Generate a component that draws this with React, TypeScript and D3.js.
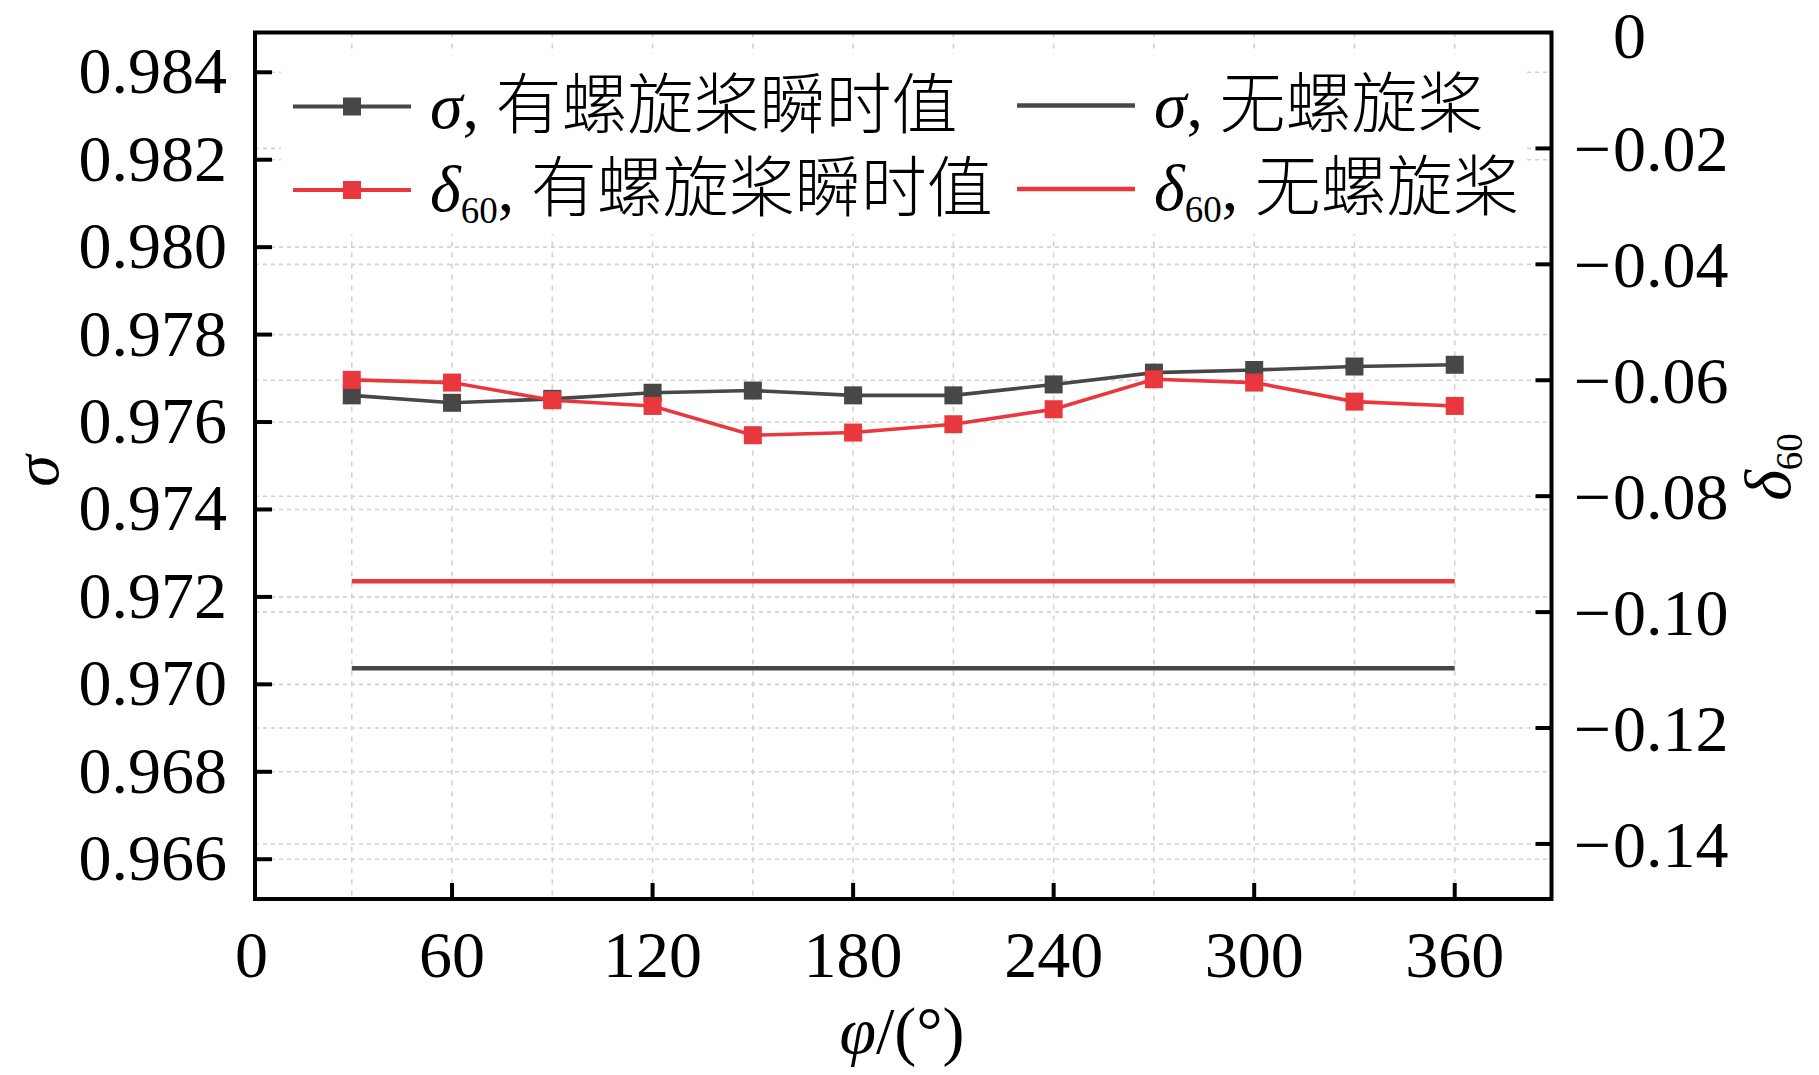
import { useEffect, useRef } from 'react';
import * as d3 from 'd3';

// propeller blade angle (deg)
const PHI = [30, 60, 90, 120, 150, 180, 210, 240, 270, 300, 330, 360];
// σ, with propeller (instantaneous)
const SIGMA_PROP = [0.97661, 0.97644, 0.97653, 0.97667, 0.97672, 0.97661, 0.97661, 0.97686, 0.97713, 0.97719, 0.97727, 0.97731];
// δ60, with propeller (instantaneous)
const DELTA_PROP = [-0.05994, -0.0604, -0.06345, -0.06443, -0.06948, -0.06902, -0.06759, -0.065, -0.05983, -0.0604, -0.06368, -0.06443];
// without propeller (constant reference)
const BASE_PHI = [30, 360];
const SIGMA_BASE = [0.97037, 0.97037];
const DELTA_BASE = [-0.09467, -0.09467];

const X_TICKS = [0, 60, 120, 180, 240, 300, 360];
const X_GRID = [30, 60, 90, 120, 150, 180, 210, 240, 270, 300, 330, 360];
const LEFT_TICKS = [0.966, 0.968, 0.97, 0.972, 0.974, 0.976, 0.978, 0.98, 0.982, 0.984];
const RIGHT_TICKS = [0, -0.02, -0.04, -0.06, -0.08, -0.1, -0.12, -0.14];

const GREY = '#474747';
const RED = '#e8383d';
const FONT = "'Liberation Serif', 'Times New Roman', 'Noto Sans CJK SC', serif";

export default function App() {
  const svgRef = useRef<SVGSVGElement>(null);

  useEffect(() => {
    if (!svgRef.current) return;
    d3.select(svgRef.current).selectAll('*').remove();

    const width = 1819;
    const height = 1075;
    const left = 255;
    const right = 1551.5;
    const top = 32.5;
    const bottom = 899;

    const svg = d3
      .select(svgRef.current)
      .attr('width', width)
      .attr('height', height)
      .style('font-family', FONT);

    const x = d3.scaleLinear().domain([0, 390]).range([251.5, 1555]);
    const yL = d3.scaleLinear().domain([0.96509, 0.98491]).range([bottom, top]);
    const yR = d3.scaleLinear().domain([-0.1495, 0]).range([bottom, top]);

    svg.append('rect').attr('width', width).attr('height', height).attr('fill', '#fff');

    // grid
    const grid = svg.append('g').attr('stroke', '#d2d2d2').attr('stroke-width', 1.6);
    grid
      .selectAll('line.v')
      .data(X_GRID)
      .enter()
      .append('line')
      .attr('x1', (d) => x(d))
      .attr('x2', (d) => x(d))
      .attr('y1', top)
      .attr('y2', bottom)
      .attr('stroke-dasharray', '5 6');
    grid
      .selectAll('line.hl')
      .data(LEFT_TICKS)
      .enter()
      .append('line')
      .attr('x1', left)
      .attr('x2', right)
      .attr('y1', (d) => yL(d))
      .attr('y2', (d) => yL(d))
      .attr('stroke-dasharray', '4 4');
    grid
      .selectAll('line.hr')
      .data(RIGHT_TICKS.filter((d) => d !== 0))
      .enter()
      .append('line')
      .attr('x1', left)
      .attr('x2', right)
      .attr('y1', (d) => yR(d))
      .attr('y2', (d) => yR(d))
      .attr('stroke-dasharray', '4 4');

    // legend background hides the grid behind it
    svg.append('rect').attr('x', 281).attr('y', 55).attr('width', 1246).attr('height', 179).attr('fill', '#fff');

    // frame
    svg
      .append('rect')
      .attr('x', left)
      .attr('y', top)
      .attr('width', right - left)
      .attr('height', bottom - top)
      .attr('fill', 'none')
      .attr('stroke', '#000')
      .attr('stroke-width', 4);

    // ticks (inward)
    const ticks = svg.append('g').attr('stroke', '#000').attr('stroke-width', 4);
    ticks
      .selectAll('line.xt')
      .data(X_TICKS.filter((d) => d > 0))
      .enter()
      .append('line')
      .attr('x1', (d) => x(d))
      .attr('x2', (d) => x(d))
      .attr('y1', bottom)
      .attr('y2', bottom - 16);
    ticks
      .selectAll('line.lt')
      .data(LEFT_TICKS)
      .enter()
      .append('line')
      .attr('x1', left)
      .attr('x2', left + 17)
      .attr('y1', (d) => yL(d))
      .attr('y2', (d) => yL(d));
    ticks
      .selectAll('line.rt')
      .data(RIGHT_TICKS.filter((d) => d !== 0))
      .enter()
      .append('line')
      .attr('x1', right)
      .attr('x2', right - 16)
      .attr('y1', (d) => yR(d))
      .attr('y2', (d) => yR(d));

    // tick labels
    svg
      .selectAll('text.xl')
      .data(X_TICKS)
      .enter()
      .append('text')
      .attr('x', (d) => x(d))
      .attr('y', 977)
      .attr('text-anchor', 'middle')
      .attr('font-size', 66)
      .text((d) => d);
    svg
      .selectAll('text.ll')
      .data(LEFT_TICKS)
      .enter()
      .append('text')
      .attr('x', 227)
      .attr('y', (d) => yL(d) + 21)
      .attr('text-anchor', 'end')
      .attr('font-size', 66)
      .text((d) => d.toFixed(3));
    const rl = svg
      .selectAll('g.rl')
      .data(RIGHT_TICKS)
      .enter()
      .append('g')
      .attr('transform', (d) => `translate(1613,${d === 0 ? 58 : yR(d) + 23})`)
      .attr('font-size', 66);
    rl.append('text').attr('text-anchor', 'start').text((d) => (d === 0 ? '0' : Math.abs(d).toFixed(2)));
    rl
      .filter((d) => d !== 0)
      .append('text')
      .attr('text-anchor', 'end')
      .attr('x', -2)
      .text('\u2212');

    // constant lines, without propeller
    const lineL = d3
      .line<number>()
      .x((_, i) => x(BASE_PHI[i]))
      .y((d) => yL(d));
    const lineR = d3
      .line<number>()
      .x((_, i) => x(BASE_PHI[i]))
      .y((d) => yR(d));
    svg.append('path').attr('d', lineR(DELTA_BASE)).attr('fill', 'none').attr('stroke', RED).attr('stroke-width', 4.5);
    svg.append('path').attr('d', lineL(SIGMA_BASE)).attr('fill', 'none').attr('stroke', GREY).attr('stroke-width', 4.5);

    // instantaneous series
    const sigLine = d3
      .line<number>()
      .x((_, i) => x(PHI[i]))
      .y((d) => yL(d));
    const delLine = d3
      .line<number>()
      .x((_, i) => x(PHI[i]))
      .y((d) => yR(d));
    const ms = 18;

    svg.append('path').attr('d', sigLine(SIGMA_PROP)).attr('fill', 'none').attr('stroke', GREY).attr('stroke-width', 3.6);
    svg
      .selectAll('rect.sm')
      .data(SIGMA_PROP)
      .enter()
      .append('rect')
      .attr('x', (_, i) => x(PHI[i]) - ms / 2)
      .attr('y', (d) => yL(d) - ms / 2)
      .attr('width', ms)
      .attr('height', ms)
      .attr('fill', GREY);

    svg.append('path').attr('d', delLine(DELTA_PROP)).attr('fill', 'none').attr('stroke', RED).attr('stroke-width', 3.6);
    svg
      .selectAll('rect.dm')
      .data(DELTA_PROP)
      .enter()
      .append('rect')
      .attr('x', (_, i) => x(PHI[i]) - ms / 2)
      .attr('y', (d) => yR(d) - ms / 2)
      .attr('width', ms)
      .attr('height', ms)
      .attr('fill', RED);

    // legend
    const legendItems = [
      { x0: 293, y0: 106.5, color: GREY, marker: true, sym: 'σ', sub: '', label: ', 有螺旋桨瞬时值' },
      { x0: 293, y0: 190, color: RED, marker: true, sym: 'δ', sub: '60', label: ', 有螺旋桨瞬时值' },
      { x0: 1017, y0: 105.5, color: GREY, marker: false, sym: 'σ', sub: '', label: ', 无螺旋桨' },
      { x0: 1017, y0: 189, color: RED, marker: false, sym: 'δ', sub: '60', label: ', 无螺旋桨' },
    ];
    legendItems.forEach((it) => {
      const g = svg.append('g');
      g.append('line')
        .attr('x1', it.x0)
        .attr('x2', it.x0 + 118)
        .attr('y1', it.y0)
        .attr('y2', it.y0)
        .attr('stroke', it.color)
        .attr('stroke-width', it.marker ? 4 : 4.5);
      if (it.marker) {
        g.append('rect')
          .attr('x', it.x0 + 59 - ms / 2)
          .attr('y', it.y0 - ms / 2)
          .attr('width', ms)
          .attr('height', ms)
          .attr('fill', it.color);
      }
      const t = g
        .append('text')
        .attr('x', it.x0 + 137)
        .attr('y', it.y0 + 21)
        .attr('font-size', 66);
      t.append('tspan').attr('font-style', 'italic').text(it.sym);
      if (it.sub) {
        t.append('tspan').attr('font-size', 37).attr('dy', 12).text(it.sub);
        t.append('tspan').attr('dy', -12).attr('font-weight', 300).text(it.label);
      } else {
        t.append('tspan').attr('font-weight', 300).text(it.label);
      }
    });

    // axis titles
    svg
      .append('text')
      .attr('transform', 'translate(58,471) rotate(-90)')
      .attr('text-anchor', 'middle')
      .attr('font-size', 64)
      .attr('font-style', 'italic')
      .text('σ');

    const dt = svg
      .append('text')
      .attr('transform', 'translate(1790,467) rotate(-90)')
      .attr('text-anchor', 'middle')
      .attr('font-size', 66);
    dt.append('tspan').attr('font-style', 'italic').text('δ');
    dt.append('tspan').attr('font-size', 37).attr('dy', 12).text('60');

    const xt = svg
      .append('text')
      .attr('x', 902)
      .attr('y', 1053)
      .attr('text-anchor', 'middle')
      .attr('font-size', 66);
    xt.append('tspan').attr('font-style', 'italic').text('φ');
    xt.append('tspan').text('/(°)');
  }, []);

  return (
    <div style={{ position: 'absolute', left: 0, top: 0 }}>
      <svg ref={svgRef}></svg>
    </div>
  );
}
